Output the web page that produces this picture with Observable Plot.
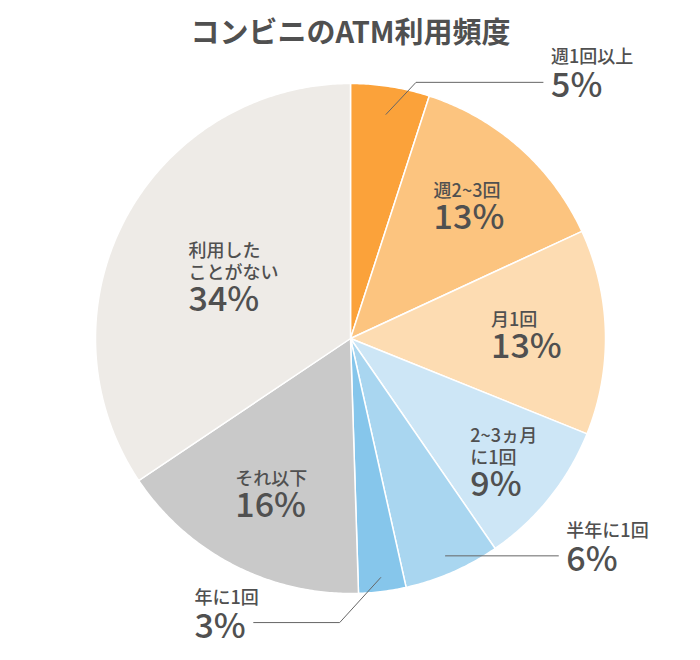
<!DOCTYPE html>
<html><head><meta charset="utf-8">
<script src="https://cdn.jsdelivr.net/npm/d3@7"></script>
<script src="https://cdn.jsdelivr.net/npm/@observablehq/plot@0.6"></script>
<style>body{margin:0;background:#fff;}</style>
</head><body><div id="chart"></div>
<script>
// ---- data ----
const title = "コンビニのATM利用頻度";
const categories = ["週1回以上","週2~3回","月1回","2~3ヵ月に1回","半年に1回","年に1回","それ以下","利用したことがない"];
const labelLines = [["週1回以上"],["週2~3回"],["月1回"],["2~3ヵ月","に1回"],["半年に1回"],["年に1回"],["それ以下"],["利用した","ことがない"]];
const values = [5.0, 13.1, 13.0, 9.3, 6.1, 3.0, 16.1, 34.4];
const colors = ["#FBA23A","#FCC47F","#FDDCB2","#CDE6F6","#A9D6F0","#86C6EB","#C9C9C9","#EEEBE7"];

// ---- layout ----
const W = 700, H = 660, CX = 350, CY = 338, R = 255;
const FONT = '"Noto Sans CJK JP", "Noto Sans CJK SC", sans-serif';
const TEXT = "#505050";
const LABEL_WEIGHT = 500;
const inside = {1: 0.70, 2: 0.69, 3: 0.77, 6: 0.68, 7: 0.52};
const outside = {
  0: {r0: 0.89, elbow: [30, -32], run: 127},
  4: {r0: 0.93, elbow: [0, 0], run: 113},
  5: {r0: 0.945, elbow: [-41, 45], run: -86}
};

const toX = px => (px - CX) / R, toY = py => (CY - py) / R;
const polar = (a, f) => [CX + f * R * Math.sin(a), CY - f * R * Math.cos(a)];

const pie = d3.pie().sort(null).value(d => d)(values);

const slicePts = [];
pie.forEach((p, i) => {
  const n = Math.max(2, Math.ceil((p.endAngle - p.startAngle) / (Math.PI / 360)));
  slicePts.push({cat: categories[i], x: 0, y: 0});
  for (let k = 0; k <= n; k++) {
    const a = p.startAngle + (p.endAngle - p.startAngle) * k / n;
    slicePts.push({cat: categories[i], x: Math.sin(a), y: Math.cos(a)});
  }
  slicePts.push({cat: categories[i], x: 0, y: 0});
});

const ctx = document.createElement("canvas").getContext("2d");
const textW = (s, size) => { ctx.font = `${LABEL_WEIGHT} ${size}px ${FONT}`; return ctx.measureText(s).width; };
const pctText = values.map(v => Math.round(v) + "%");

const catRows = [], pctRows = [], leaders = [];
pie.forEach((p, i) => {
  const mid = (p.startAngle + p.endAngle) / 2;
  const lines = labelLines[i];
  if (inside[i] != null) {
    const [cx, cy] = polar(mid, inside[i]);
    const w = Math.max(...lines.map(s => textW(s, 18)), textW(pctText[i], 34));
    const h = 16 + 22 * (lines.length - 1) + 32;
    const left = cx - w / 2, top = cy - h / 2;
    lines.forEach((s, k) => catRows.push({x: toX(left), y: toY(top + 16 + 22 * k), text: s}));
    pctRows.push({x: toX(left), y: toY(top + 16 + 22 * (lines.length - 1) + 32), text: pctText[i]});
  } else {
    const o = outside[i];
    const [sx, sy] = polar(mid, o.r0);
    const ex = sx + o.elbow[0], ey = sy + o.elbow[1];
    const tx = ex + o.run;
    leaders.push({id: i, x: toX(sx), y: toY(sy)}, {id: i, x: toX(ex), y: toY(ey)}, {id: i, x: toX(tx), y: toY(ey)});
    const left = o.run > 0 ? tx + 8 : tx - 8 - textW(pctText[i], 34);
    catRows.push({x: toX(left), y: toY(ey - 19), text: lines.join("")});
    pctRows.push({x: toX(left), y: toY(ey + 15), text: pctText[i]});
  }
});

const chart = Plot.plot({
  width: W, height: H, margin: 0,
  x: {domain: [toX(0), toX(W)], axis: null},
  y: {domain: [toY(H), toY(0)], axis: null},
  color: {domain: categories, range: colors},
  style: {fontFamily: FONT, background: "white"},
  marks: [
    Plot.line(slicePts, {x: "x", y: "y", z: "cat", fill: "cat", stroke: "white", strokeWidth: 1.5, strokeLinejoin: "miter", strokeMiterlimit: 4}),
    Plot.line(leaders, {x: "x", y: "y", z: "id", stroke: "#666", strokeWidth: 1, strokeLinejoin: "miter"}),
    Plot.text(catRows, {x: "x", y: "y", text: "text", textAnchor: "start", lineAnchor: "bottom", fontSize: 18, fontWeight: LABEL_WEIGHT, fill: TEXT}),
    Plot.text(pctRows, {x: "x", y: "y", text: "text", textAnchor: "start", lineAnchor: "bottom", fontSize: 34, fontWeight: LABEL_WEIGHT, fill: TEXT}),
    Plot.text([title], {frameAnchor: "top", lineAnchor: "bottom", dy: 42, fontSize: 29, fontWeight: "bold", fill: TEXT})
  ]
});
document.getElementById("chart").appendChild(chart);
</script>
</body></html>
